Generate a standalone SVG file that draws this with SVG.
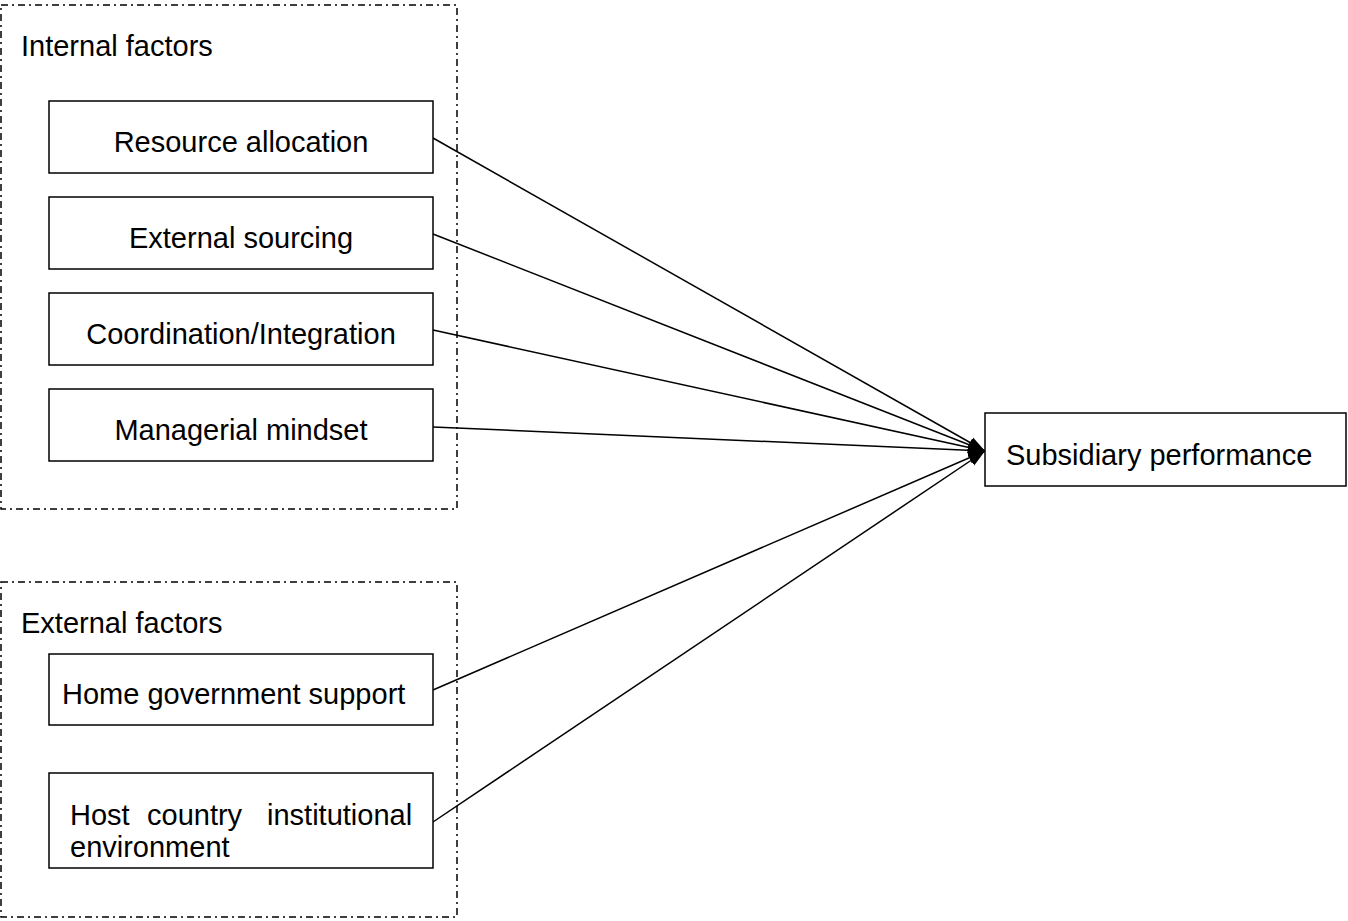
<svg xmlns="http://www.w3.org/2000/svg" width="1348" height="921" viewBox="0 0 1348 921">
<style>
.frame{fill:none;stroke:#000;stroke-width:1.5;stroke-dasharray:7 4 2 4}
.box{fill:#fff;stroke:#000;stroke-width:1.5}
.t{font-family:"Liberation Sans",Arial,sans-serif;font-size:29px;fill:#000}
.c{stroke:#000;stroke-width:1.5;fill:none;marker-end:url(#arr)}
</style>
<defs>
<marker id="arr" viewBox="0 0 10 10" refX="10" refY="5" markerWidth="17" markerHeight="17" markerUnits="userSpaceOnUse" orient="auto">
<path d="M0,1.5 L10,5 L0,8.5 Z" fill="#000"/>
</marker>
</defs>
<rect width="1348" height="921" fill="#fff"/>
<g id="internal-factors">
<rect class="frame" x="1" y="5" width="456" height="504"/>
<text class="t" x="21" y="56">Internal factors</text>
</g>
<g id="external-factors">
<rect class="frame" x="1" y="582" width="456" height="335"/>
<text class="t" x="21" y="633">External factors</text>
</g>
<g id="connectors">
<line class="c" x1="433" y1="138" x2="985" y2="451"/>
<line class="c" x1="433" y1="234" x2="985" y2="451"/>
<line class="c" x1="433" y1="330" x2="985" y2="451"/>
<line class="c" x1="433" y1="427" x2="985" y2="451"/>
<line class="c" x1="433" y1="690" x2="985" y2="451"/>
<line class="c" x1="433" y1="822" x2="985" y2="451"/>
</g>
<g id="resource-allocation">
<rect class="box" x="49" y="101" width="384" height="72"/>
<text class="t" x="241" y="152" text-anchor="middle">Resource allocation</text>
</g>
<g id="external-sourcing">
<rect class="box" x="49" y="197" width="384" height="72"/>
<text class="t" x="241" y="248" text-anchor="middle">External sourcing</text>
</g>
<g id="coordination">
<rect class="box" x="49" y="293" width="384" height="72"/>
<text class="t" x="241" y="344" text-anchor="middle">Coordination/Integration</text>
</g>
<g id="managerial-mindset">
<rect class="box" x="49" y="389" width="384" height="72"/>
<text class="t" x="241" y="440" text-anchor="middle">Managerial mindset</text>
</g>
<g id="home-government">
<rect class="box" x="49" y="654" width="384" height="71"/>
<text class="t" x="62" y="704">Home government support</text>
</g>
<g id="host-country">
<rect class="box" x="49" y="773" width="384" height="95"/>
<text class="t" y="825"><tspan x="70">Host</tspan><tspan x="147">country</tspan><tspan x="267">institutional</tspan></text>
<text class="t" x="70" y="857">environment</text>
</g>
<g id="subsidiary-performance">
<rect class="box" x="985" y="413" width="361" height="73"/>
<text class="t" x="1006" y="465">Subsidiary performance</text>
</g>
</svg>
